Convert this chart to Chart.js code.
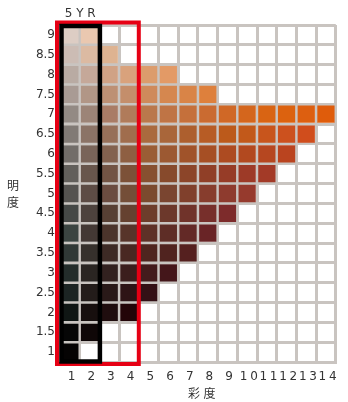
<!DOCTYPE html>
<html>
<head>
<meta charset="utf-8">
<script src="https://cdn.jsdelivr.net/npm/chart.js@4.4.1/dist/chart.umd.min.js"></script>
<style>
  html, body { margin: 0; padding: 0; background: #fff; }
</style>
</head>
<body>
<canvas id="munsell" width="348" height="402"></canvas>
<script>
const hueName = "5 Y R";
const valueTitle = "明度";
const chromaTitle = "彩度";

const valueLabels = ["9", "8.5", "8", "7.5", "7", "6.5", "6", "5.5", "5", "4.5", "4", "3.5", "3", "2.5", "2", "1.5", "1"];
const chromaLabels = ["1", "2", "3", "4", "5", "6", "7", "8", "9", "10", "11", "12", "13", "14"];

// swatch colours per value row, starting at chroma 1
const v90 = ["#ddcdc4", "#eac8b0"];
const v85 = ["#ccbcb4", "#dcbaa2", "#deb391"];
const v80 = ["#b9aba3", "#c5a899", "#d0a285", "#d9a27c", "#dc9c6c", "#e39a66"];
const v75 = ["#a99b94", "#b19686", "#bd9074", "#c48e6b", "#cf8a5b", "#d5874f", "#d98447", "#de803c"];
const v70 = ["#938a84", "#9c8477", "#a97c66", "#b07b5a", "#ba784c", "#bf7445", "#c5703b", "#ca6b31", "#d06826", "#d4661d", "#d96413", "#dc620f", "#dd5f10", "#df5c0b"];
const v65 = ["#817a75", "#8b7366", "#977059", "#a06d4d", "#aa6a3e", "#a9663a", "#ad5f2e", "#b75c25", "#bc5a1b", "#c2591a", "#c8551c", "#cc511e", "#d04d1c"];
const v60 = ["#726d69", "#796459", "#83624f", "#8e5f42", "#9a5d35", "#9c5932", "#a0532a", "#a64f24", "#ad4b21", "#b2491f", "#b64720", "#ba441f"];
const v55 = ["#625f5b", "#68564c", "#725444", "#7c5138", "#875030", "#874a2c", "#8c4529", "#903f27", "#963c27", "#9d3a27", "#a33a27"];
const v50 = ["#555350", "#5d4c45", "#6a4c40", "#744e38", "#7b4a2e", "#7a4530", "#80402c", "#873d2d", "#8e3b2e", "#963a2d"];
const v45 = ["#454846", "#4d423d", "#574034", "#654130", "#6d3d2b", "#6c382b", "#70332a", "#772f2b", "#7d2b2b"];
const v40 = ["#3b4441", "#433834", "#4b342b", "#57342a", "#5e3127", "#5e2d26", "#632926", "#692426"];
const v35 = ["#303836", "#36302c", "#3d2a25", "#492822", "#4f251f", "#50231f", "#55201f"];
const v30 = ["#232c2a", "#2a2522", "#32211f", "#3b1e1d", "#431b1c", "#44161a"];
const v25 = ["#1c2423", "#231c1a", "#291918", "#2e1416", "#331015"];
const v20 = ["#101614", "#170f0e", "#1f0d0e", "#230508"];
const v15 = ["#060606", "#0f0707"];
const v10 = ["#050303"];

const rows = [v90, v85, v80, v75, v70, v65, v60, v55, v50, v45, v40, v35, v30, v25, v20, v15, v10];

const points = [];
const colors = [];
rows.forEach((row, i) => {
    row.forEach((c, j) => {
        points.push({ x: chromaLabels[j], y: valueLabels[i] });
        colors.push(c);
    });
});

const gridColor = "#c9c4c0";
const textColor = "#333";
const latinFont = "'DejaVu Sans', Verdana, sans-serif";
const cjkFont = "'Noto Sans CJK JP', sans-serif";

const overlay = {
    id: "overlay",
    afterDatasetsDraw(chart) {
        // x tick labels are drawn after this (ticks.z = 1), spread their digits a little
        chart.ctx.letterSpacing = "2.7px";
    },
    afterDraw(chart) {
        const { ctx, chartArea: a, scales: { x } } = chart;
        ctx.save();
        ctx.letterSpacing = "0px";
        const colW = a.width / chromaLabels.length;
        const edge = (n) => x.getPixelForValue(n) - colW / 2;

        // red frame round chroma 1-4
        ctx.lineWidth = 4;
        ctx.strokeStyle = "#e60014";
        ctx.strokeRect(edge(0) - 3, a.top - 2.5, edge(4) - edge(0) + 3, a.bottom - a.top + 4.5);

        // black frame round chroma 1-2
        ctx.lineWidth = 4.5;
        ctx.strokeStyle = "#000";
        ctx.strokeRect(edge(0) + 1.5, a.top + 1, edge(2) - edge(0) - 1, a.bottom - a.top - 1.5);

        ctx.fillStyle = textColor;
        ctx.textAlign = "center";
        ctx.textBaseline = "middle";

        // hue name above the first two columns
        ctx.font = "12px " + latinFont;
        ctx.fillText(hueName, edge(1) + 0.5, 14);

        // axis titles, CJK characters placed one by one
        ctx.font = "12px " + cjkFont;
        [...valueTitle].forEach((ch, i) => ctx.fillText(ch, 13, 185 + i * 17));
        [...chromaTitle].forEach((ch, i) => ctx.fillText(ch, 194 + i * 15.5, 393));

        ctx.restore();
    }
};

new Chart(document.getElementById("munsell"), {
    type: "scatter",
    data: {
        datasets: [{
            data: points,
            backgroundColor: colors,
            borderWidth: 0,
            pointStyle: "rect",
            pointRadius: 12.2,
            pointHoverRadius: 12.2
        }]
    },
    options: {
        responsive: false,
        animation: false,
        devicePixelRatio: 1,
        events: [],
        layout: { padding: { top: 25, right: 8, left: 0, bottom: 0 } },
        plugins: {
            legend: { display: false },
            tooltip: { enabled: false }
        },
        scales: {
            x: {
                type: "category",
                labels: chromaLabels,
                offset: true,
                grid: { offset: true, color: gridColor, lineWidth: 3, drawTicks: false },
                border: { color: gridColor, width: 3 },
                ticks: {
                    color: textColor,
                    font: { family: latinFont, size: 12 },
                    padding: 8,
                    autoSkip: false,
                    maxRotation: 0,
                    labelOffset: 3,
                    z: 1
                },
                afterFit: (s) => { s.height = 40; }
            },
            y: {
                type: "category",
                labels: valueLabels,
                offset: true,
                grid: { offset: true, color: gridColor, lineWidth: 3, drawTicks: false },
                border: { color: gridColor, width: 3 },
                ticks: {
                    color: textColor,
                    font: { family: latinFont, size: 12 },
                    padding: 5,
                    autoSkip: false
                },
                afterFit: (s) => { s.width = 60; }
            }
        }
    },
    plugins: [overlay]
});
</script>
</body>
</html>
